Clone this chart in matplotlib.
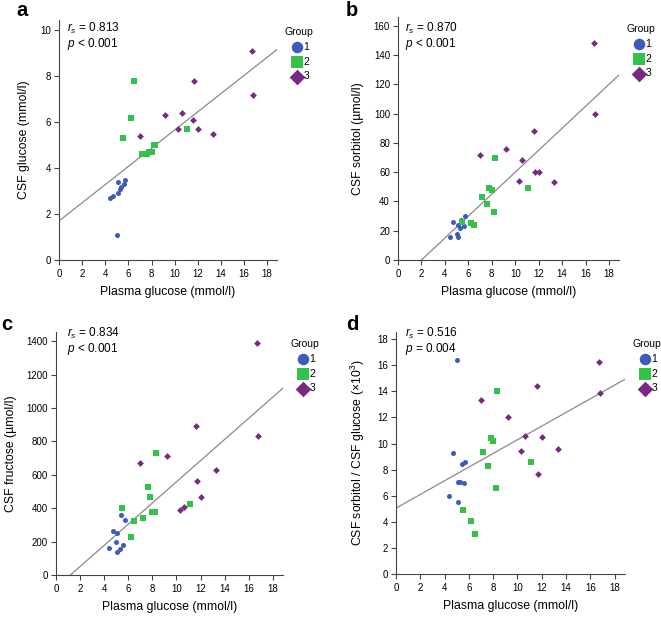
import numpy as np
import matplotlib
matplotlib.use("Agg")
import matplotlib.pyplot as plt

plt.rcParams['font.family'] = ['Liberation Sans', 'DejaVu Sans']
plt.rcParams['mathtext.fontset'] = 'custom'
plt.rcParams['mathtext.rm'] = 'Liberation Sans'
plt.rcParams['mathtext.it'] = 'Liberation Sans:italic'

# plasma glucose (mmol/l) per group
x_g1 = [4.4, 4.7, 5.0, 5.1, 5.1, 5.3, 5.4, 5.6, 5.7]
x_g2 = [5.5, 6.2, 6.5, 7.2, 7.6, 7.8, 8.0, 8.2, 8.3, 11.1]
x_g3 = [7.0, 9.2, 10.3, 10.6, 11.6, 11.7, 12.0, 13.3, 16.7, 16.8]

# CSF glucose (mmol/l)
glu_g1 = [2.7, 2.8, 1.1, 2.9, 3.4, 3.1, 3.2, 3.3, 3.5]
glu_g2 = [5.3, 6.2, 7.8, 4.6, 4.6, 4.7, 4.7, 5.0, 5.0, 5.7]
glu_g3 = [5.4, 6.3, 5.7, 6.4, 6.1, 7.8, 5.7, 5.5, 9.1, 7.2]

# CSF sorbitol (umol/l)
sor_g1 = [16, 26, 18, 16, 24, 22, 27, 23, 30]
sor_g2 = [26, 25, 24, 43, 38, 49, 48, 33, 70, 49]
sor_g3 = [72, 76, 54, 68, 88, 60, 60, 53, 148, 100]

# CSF fructose (umol/l)
fru_g1 = [160, 265, 200, 250, 140, 155, 360, 180, 330]
fru_g2 = [400, 225, 325, 340, 527, 465, 380, 380, 730, 428]
fru_g3 = [672, 715, 390, 410, 890, 565, 470, 630, 1390, 830]

# sorbitol / glucose ratio (x10^3)
rat_g1 = [5.95, 9.3, 16.4, 5.5, 7.05, 7.05, 8.45, 6.95, 8.6]
rat_g2 = [4.9, 4.05, 3.1, 9.35, 8.25, 10.45, 10.2, 6.6, 14.0, 8.6]
rat_g3 = [13.3, 12.05, 9.45, 10.6, 14.4, 7.7, 10.5, 9.6, 16.25, 13.9]

# regression lines: (intercept, slope)
fit_a = (1.7, 0.396)
fit_b = (-15.0, 7.5)
fit_c = (-76.0, 63.4)
fit_d = (5.05, 0.524)

stats_a = ("0.813", "<", "0.001")
stats_b = ("0.870", "<", "0.001")
stats_c = ("0.834", "<", "0.001")
stats_d = ("0.516", "=", "0.004")

BLUE = "#3c5bbd"
GREEN = "#35c24a"
PURPLE = "#7a2983"

W, H = 661, 617
fig = plt.figure(figsize=(W / 100, H / 100), dpi=100)


def px_axes(left, right, top, bottom):
    return fig.add_axes([left / W, (H - bottom) / H, (right - left) / W, (bottom - top) / H])


def fig_text(x, y, s, **kw):
    # x, y in pixels from top-left
    fig.text(x / W, 1 - y / H, s, **kw)


def panel(ax, ys, fit, stats, ylim, yticks, ylabel, letter, letter_xy, stats_xy):
    ax.scatter(x_g1, ys[0], marker="o", s=13, color=BLUE, lw=0, label="1", zorder=3)
    ax.scatter(x_g2, ys[1], marker="s", s=13, color=GREEN, lw=0, label="2", zorder=3)
    ax.scatter(x_g3, ys[2], marker="D", s=12, color=PURPLE, lw=0, label="3", zorder=3)
    xx = np.linspace(0, 18.85, 50)
    ax.plot(xx, fit[0] + fit[1] * xx, color="#8a8a8a", lw=0.9, zorder=2)
    ax.set_xlim(0, 18.85)
    ax.set_ylim(*ylim)
    ax.set_xticks(range(0, 19, 2))
    ax.set_yticks(yticks)
    for s in ["top", "right"]:
        ax.spines[s].set_visible(False)
    for s in ["left", "bottom"]:
        ax.spines[s].set_color("#444444")
        ax.spines[s].set_linewidth(0.8)
    ax.tick_params(length=3.8, width=0.8, color="#444444", labelsize=7)
    ax.tick_params(axis="x", pad=3)
    ax.tick_params(axis="y", pad=2)
    ax.set_ylabel(ylabel, fontsize=8.8, labelpad=7)
    ax.set_xlabel("Plasma glucose (mmol/l)", fontsize=8.8, labelpad=5)
    fig_text(stats_xy[0], stats_xy[1],
             r"$r_s$ = " + stats[0] + "\n" + r"$p$ " + stats[1] + " " + stats[2],
             fontsize=8.5, va="top", linespacing=1.0)
    ax.legend(title="Group", loc="upper left", bbox_to_anchor=(1.0, 1.0),
              frameon=False, markerscale=2.3, handletextpad=-0.3, labelspacing=0.45,
              fontsize=7.5, title_fontsize=7.5, borderaxespad=0.3, handlelength=1.8)
    fig_text(letter_xy[0], letter_xy[1], letter, fontsize=14.5, fontweight="bold",
             va="baseline", ha="left")


ax_a = px_axes(59, 277, 20, 260)
panel(ax_a, (glu_g1, glu_g2, glu_g3), fit_a, stats_a, (0, 10.45), range(0, 11, 2),
      "CSF glucose (mmol/l)", "a", (16, 16), (67, 21))

ax_b = px_axes(398, 619, 17, 260)
panel(ax_b, (sor_g1, sor_g2, sor_g3), fit_b, stats_b, (0, 166), range(0, 161, 20),
      "CSF sorbitol (\u00b5mol/l)", "b", (346, 16), (405, 21))

ax_c = px_axes(56, 283, 332, 575)
panel(ax_c, (fru_g1, fru_g2, fru_g3), fit_c, stats_c, (0, 1455), range(0, 1401, 200),
      "CSF fructose (\u00b5mol/l)", "c", (1, 330), (67, 326))

ax_d = px_axes(396, 625, 332, 574)
panel(ax_d, (rat_g1, rat_g2, rat_g3), fit_d, stats_d, (0, 18.55), range(0, 19, 2),
      "CSF sorbitol / CSF glucose (\u00d710$^3$)", "d", (346, 330), (405, 326))

fig.savefig("out.png", dpi=100)
